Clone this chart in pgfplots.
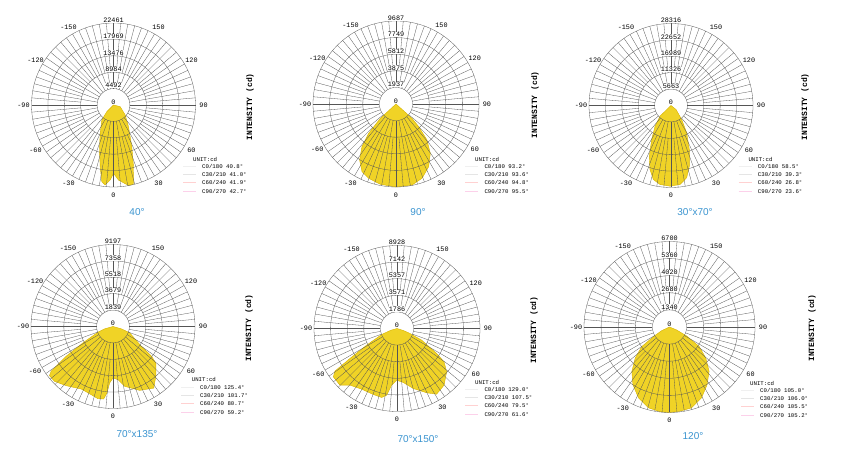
\documentclass[border=0pt]{standalone}
\usepackage{fontspec}
\setmainfont{Liberation Sans}
\newfontfamily\mono{Liberation Mono}
\usepackage{pgfplots}
\pgfplotsset{compat=1.18}
\usepackage{pgfplotstable}

\definecolor{beamfill}{RGB}{240,211,38}
\definecolor{beamedge}{RGB}{214,178,0}
\definecolor{titleblue}{RGB}{58,148,208}
\definecolor{gridc}{RGB}{85,85,85}

\pgfplotsset{
 chartax/.style={hide axis, scale only axis, xmin=-1,xmax=1,ymin=-1,ymax=1, clip=false, anchor=center},
 table/pdata/.style={x expr={\thisrow{cd}/#1*sin(\thisrow{a})}, y expr={-\thisrow{cd}/#1*cos(\thisrow{a})}},
}
\tikzset{gridl/.style={draw=gridc, line width=0.3pt},
 lab/.style={font=\mono\fontsize{6.8}{7}\selectfont, inner sep=0.3pt},
 rlab/.style={lab, fill=white},
 leg/.style={anchor=west, font=\mono\fontsize{5.7}{6}\selectfont, inner sep=0pt},
}

\newcommand{\polargrid}[1]{%
 \pgfplotsinvokeforeach{1,...,5}{\draw[gridl] (axis cs:0,0) circle[radius=##1/5];}
 \pgfplotsinvokeforeach{0,10,...,350}{\draw[gridl] (axis cs:{0.2*sin(##1)},{0.2*cos(##1)}) -- (axis cs:{sin(##1)},{cos(##1)});}
 \pgfplotsinvokeforeach{5,15,...,355}{\draw[gridl] (axis cs:{0.4*sin(##1)},{0.4*cos(##1)}) -- (axis cs:{sin(##1)},{cos(##1)});}
 \pgfplotsinvokeforeach{-150,-120,...,150}{\node[lab] at (axis cs:{#1*sin(##1)},{-#1*cos(##1)}) {##1};}
 \node[lab] at (axis cs:0,0.035) {0};
}
\newcommand{\ringlabels}[5]{%
 \node[rlab] at (axis cs:0,0.236) {#1};
 \node[rlab] at (axis cs:0,0.436) {#2};
 \node[rlab] at (axis cs:0,0.636) {#3};
 \node[rlab] at (axis cs:0,0.836) {#4};
 \node[rlab] at (axis cs:0,1.036) {#5};
}
\newcommand{\legentry}[4]{%
 \draw[#4, line width=0.4pt] ({(#1-19)*1pt},{(457-(#2))*1pt}) -- ({(#1-6)*1pt},{(457-(#2))*1pt});
 \node[leg] at (#1pt,{(457-(#2))*1pt}) {#3};
}
\newcommand{\legendblock}[7]{%
 \node[leg] at (#1pt,{(457-#2)*1pt}) {UNIT:cd};
 \legentry{#3}{#2+7.3}{#4}{black!6}
 \legentry{#3}{#2+15.3}{#5}{black!10}
 \legentry{#3}{#2+23.7}{#6}{red!18}
 \legentry{#3}{#2+32.3}{#7}{magenta!18}
}
\newcommand{\charttitle}[3]{\node[font=\fontsize{10}{12}\selectfont, text=titleblue] at (#1pt,{(457-#2)*1pt}) {#3};}
\newcommand{\intlabel}[2]{\node[rotate=90, font=\mono\bfseries\fontsize{8}{9}\selectfont] at (#1pt,{(457-#2)*1pt}) {INTENSITY (cd)};}

% chart data: a = C-angle in degrees (0 = down, 90 = right), cd = intensity
\pgfplotstableread{
a cd
-90 0
-45 2575
-37.9 5204
-25.2 8573
-17.3 12901
-12.2 17283
-8.7 21227
-5.9 22022
-2.5 20543
0 18707
3.8 20597
10.5 22400
14 22400
18 17749
23.7 12462
34.7 7204
49.4 4218
76 1890
90 0
}\tabA
\pgfplotstableread{
a cd
-90 0
-47.5 2474
-43 4680
-38.6 6372
-33 7796
-26.7 8834
-20.2 9243
-11 9546
0 9687
11.2 9640
19.3 9184
27.5 8251
34.8 7014
40.7 5543
45 3746
48.1 2509
90 0
}\tabB
\pgfplotstableread{
a cd
-90 0
-45.9 5283
-37.7 9012
-29.6 13501
-23.2 19026
-18.2 23273
-13.4 26278
-7.9 27555
-0.7 27866
6.5 27451
12.2 25552
16.8 21892
22.6 16471
29.8 10877
37.3 6077
51.3 2210
90 0
}\tabC
\pgfplotstableread{
a cd
-90 0
-74.4 975
-69.3 1804
-61.4 3843
-57.6 6221
-54.1 8565
-52.3 9008
-46.9 8993
-38.3 8463
-26.9 7865
-19.2 7981
-11.8 8273
-7.4 8205
-5.2 7493
-3.4 6349
0 5775
5.4 5989
11.1 6840
22.7 7766
33.5 8280
40.7 7365
49.6 6304
52.3 5453
56 3619
69.2 2006
74.4 975
90 0
}\tabD
\pgfplotstableread{
a cd
-90 0
-74 700
-68.6 1771
-61.2 3722
-57.5 5997
-55.5 8095
-52.8 8597
-45.2 8644
-39.7 7919
-30.2 7551
-19.7 7540
-12.5 7601
-8.8 7256
-5.4 6122
-0.4 5557
6.7 5847
15.2 6689
24.8 7619
31.1 8250
39.7 7919
48.9 7089
54.7 6197
57.8 5043
64.7 2935
69 1498
72.5 714
90 0
}\tabE
\pgfplotstableread{
a cd
-90 0
-64.9 675
-59.1 1467
-54.8 2655
-47.8 3631
-40.3 4561
-32.4 5353
-23.6 6064
-14.6 6547
-6.3 6680
0 6700
6.9 6650
15.2 6568
24.3 6095
33.1 5394
41.7 4662
49.4 3748
56.6 2784
62.3 1509
67.3 605
90 0
}\tabF

\begin{document}
\begin{tikzpicture}
\useasboundingbox (0,0) rectangle (861pt,457pt);
\fill[white] (0,0) rectangle (861pt,457pt);

% ---- chart 1: 40 deg
\begin{axis}[chartax, at={(113.5pt,352pt)}, width=164pt, height=164pt]
\addplot[fill=beamfill, draw=beamedge, line width=0.4pt] table[pdata=22461] {\tabA};
\polargrid{1.098}
\ringlabels{4492}{8984}{13476}{17969}{22461}
\end{axis}
\legendblock{193}{159}{202}{C0/180 40.8°}{C30/210 41.0°}{C60/240 41.9°}{C90/270 42.7°}
\charttitle{137}{212}{40°}
\intlabel{250}{107}

% ---- chart 2: 90 deg
\begin{axis}[chartax, at={(396pt,353pt)}, width=166pt, height=166pt]
\addplot[fill=beamfill, draw=beamedge, line width=0.4pt] table[pdata=9687] {\tabB};
\polargrid{1.096}
\ringlabels{1937}{3875}{5812}{7749}{9687}
\end{axis}
\legendblock{475}{159}{484.3}{C0/180 93.2°}{C30/210 93.6°}{C60/240 94.8°}{C90/270 95.5°}
\charttitle{418}{212}{90°}
\intlabel{535}{105}

% ---- chart 3: 30x70 deg
\begin{axis}[chartax, at={(671pt,351.5pt)}, width=164pt, height=164pt]
\addplot[fill=beamfill, draw=beamedge, line width=0.4pt] table[pdata=28316] {\tabC};
\polargrid{1.098}
\ringlabels{5663}{11326}{16989}{22652}{28316}
\end{axis}
\legendblock{748.3}{159}{757.7}{C0/180 58.5°}{C30/210 39.3°}{C60/240 26.8°}{C90/270 23.6°}
\charttitle{695}{212}{30°x70°}
\intlabel{805}{107}

% ---- chart 4: 70x135 deg
\begin{axis}[chartax, at={(113pt,130.5pt)}, width=164pt, height=164pt]
\addplot[fill=beamfill, draw=beamedge, line width=0.4pt] table[pdata=9197] {\tabD};
\polargrid{1.098}
\ringlabels{1839}{3679}{5518}{7358}{9197}
\end{axis}
\legendblock{191.7}{379.7}{200}{C0/180 125.4°}{C30/210 101.7°}{C60/240 80.7°}{C90/270 59.2°}
\charttitle{137}{434}{70°x135°}
\intlabel{249}{328}

% ---- chart 5: 70x150 deg
\begin{axis}[chartax, at={(397pt,128.5pt)}, width=166pt, height=166pt]
\addplot[fill=beamfill, draw=beamedge, line width=0.4pt] table[pdata=8928] {\tabE};
\polargrid{1.096}
\ringlabels{1786}{3571}{5357}{7142}{8928}
\end{axis}
\legendblock{475}{382}{484.3}{C0/180 129.0°}{C30/210 107.5°}{C60/240 79.5°}{C90/270 61.6°}
\charttitle{418}{439}{70°x150°}
\intlabel{534}{330}

% ---- chart 6: 120 deg
\begin{axis}[chartax, at={(669.5pt,130pt)}, width=171pt, height=171pt]
\addplot[fill=beamfill, draw=beamedge, line width=0.4pt] table[pdata=6700] {\tabF};
\polargrid{1.094}
\ringlabels{1340}{2680}{4020}{5360}{6700}
\end{axis}
\legendblock{750}{383}{760}{C0/180 105.0°}{C30/210 106.0°}{C60/240 105.5°}{C90/270 105.2°}
\charttitle{693}{436}{120°}
\intlabel{812}{328}
\end{tikzpicture}
\end{document}
